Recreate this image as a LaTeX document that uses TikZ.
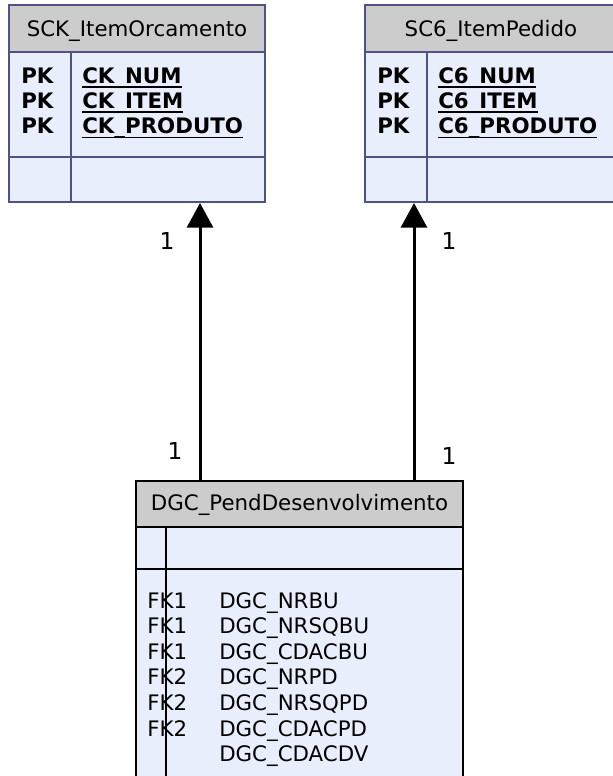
\documentclass[tikz,border=0pt]{standalone}
\usepackage{fontspec}
\setmainfont{DejaVu Sans}
\usetikzlibrary{arrows.meta}

\definecolor{headgray}{HTML}{CCCCCC}
\definecolor{tabfill}{HTML}{E8EEFC}
\definecolor{tabline}{HTML}{4F5284}

% key fields: underline sitting just under the baseline
\newcommand\keyline[1]{\setbox0\hbox{#1}\rlap{\rule[-3.3pt]{\wd0}{1.3pt}}\box0}

\begin{document}
\begin{tikzpicture}[x=0.75pt,y=-0.75pt]
        \tikzstyle{tabbody}=[fill=tabfill,draw=tabline,line width=2.2pt]
        \tikzstyle{tabhead}=[fill=headgray,draw=tabline,line width=2.2pt]
        \tikzstyle{dgcbody}=[fill=tabfill,draw=black,line width=2pt]
        \tikzstyle{dgchead}=[fill=headgray,draw=black,line width=2pt]
        \tikzstyle{title}=[inner sep=0pt,anchor=base,font=\fontsize{16}{19}\selectfont]
        \tikzstyle{field}=[inner sep=0pt,anchor=base west,font=\fontsize{16}{19}\selectfont]
        \tikzstyle{key}=[field,font=\fontsize{16}{19}\selectfont\bfseries]
        \tikzstyle{card}=[inner sep=0pt,font=\fontsize{17.5}{20}\selectfont]
        \tikzstyle{rel}=[draw=black,line width=2.25pt,-{Triangle[width=19.5pt,length=18.5pt]}]

        \useasboundingbox (0,0) rectangle (613,776);

        % SCK_ItemOrcamento
        \filldraw[tabbody] (9,5) rectangle (265,202);
        \filldraw[tabhead] (9,5) rectangle (265,52);
        \draw[tabbody] (9,157) -- (265,157);
        \draw[tabbody] (71,52) -- (71,202);
        \node[title] (sck) at (137,36) {SCK\_ItemOrcamento};
        \foreach \fld [count=\i] in {CK\_NUM,CK\_ITEM,CK\_PRODUTO} {
          \node[key] (sck-pk\i) at (21,58+25.3*\i) {PK};
          \node[key] (sck-f\i) at (82,58+25.3*\i) {\keyline{\fld}};
        }

        % SC6_ItemPedido
        \begin{scope}
          \clip (0,0) rectangle (613,776);
          \filldraw[tabbody] (365,5) rectangle (619,202);
          \filldraw[tabhead] (365,5) rectangle (619,52);
          \draw[tabbody] (365,157) -- (619,157);
          \draw[tabbody] (427,52) -- (427,202);
        \end{scope}
        \node[title] (sc6) at (491,36) {SC6\_ItemPedido};
        \foreach \fld [count=\i] in {C6\_NUM,C6\_ITEM,C6\_PRODUTO} {
          \node[key] (sc6-pk\i) at (377,58+25.3*\i) {PK};
          \node[key] (sc6-f\i) at (438,58+25.3*\i) {\keyline{\fld}};
        }

        % DGC_PendDesenvolvimento
        \begin{scope}
          \clip (0,0) rectangle (613,776);
          \filldraw[dgcbody] (136,481) rectangle (463,800);
          \filldraw[dgchead] (136,481) rectangle (463,527);
          \draw[dgcbody] (136,569) -- (463,569);
          \draw[dgcbody] (166,527) -- (166,800);
        \end{scope}
        \node[title] (dgc) at (299.5,510) {DGC\_PendDesenvolvimento};
        \foreach \fk/\fld [count=\i] in {FK1/DGC\_NRBU,FK1/DGC\_NRSQBU,FK1/DGC\_CDACBU,
            FK2/DGC\_NRPD,FK2/DGC\_NRSQPD,FK2/DGC\_CDACPD,/DGC\_CDACDV} {
          \node[field] (dgc-fk\i) at (147,582.4+25.6*\i) {\fk};
          \node[field] (dgc-f\i) at (219,582.4+25.6*\i) {\fld};
        }

        % relationships
        \coordinate (sck-in) at (200,203);
        \coordinate (sc6-in) at (414,203);
        \coordinate (dgc-a) at (200,481);
        \coordinate (dgc-b) at (414,481);

        \path (dgc-a) edge[rel] node[card,pos=0.108,xshift=-18.75pt]{1}
                                node[card,pos=0.862,xshift=-24.75pt]{1} (sck-in);
        \path (dgc-b) edge[rel] node[card,pos=0.09,xshift=26.25pt]{1}
                                node[card,pos=0.862,xshift=26.25pt]{1} (sc6-in);
\end{tikzpicture}
\end{document}
